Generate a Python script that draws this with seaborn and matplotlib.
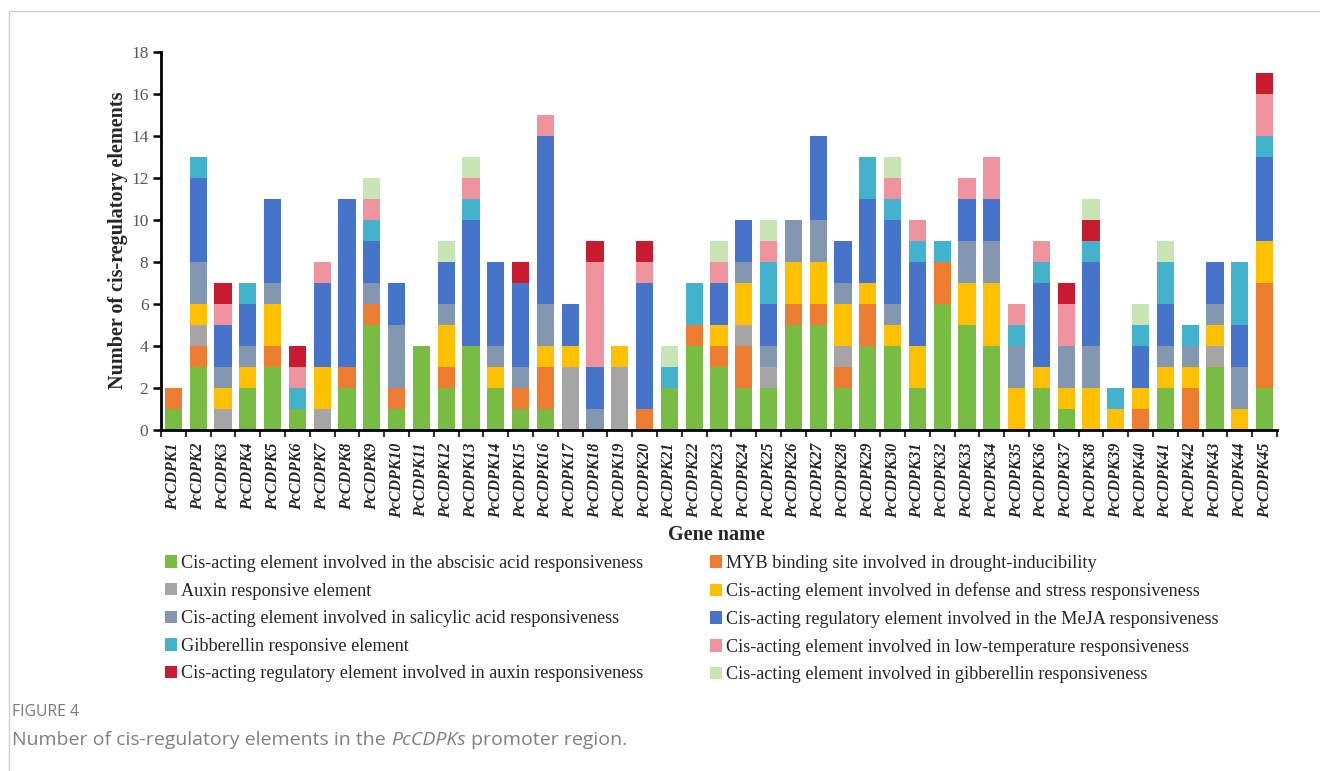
import numpy as np
import pandas as pd
import seaborn as sns
import matplotlib.pyplot as plt
from matplotlib.patches import Patch, Rectangle

# --- data ---
genes = [f"PcCDPK{i}" for i in range(1, 46)]

aba      = [1, 3, 0, 2, 3, 1, 0, 2, 5, 1, 4, 2, 4, 2, 1, 1, 0, 0, 0, 0, 2, 4, 3, 2, 2, 5, 5, 2, 4, 4, 2, 6, 5, 4, 0, 2, 1, 0, 0, 0, 2, 0, 3, 0, 2]
myb      = [1, 1, 0, 0, 1, 0, 0, 1, 1, 1, 0, 1, 0, 0, 1, 2, 0, 0, 0, 1, 0, 1, 1, 2, 0, 1, 1, 1, 2, 0, 0, 2, 0, 0, 0, 0, 0, 0, 0, 1, 0, 2, 0, 0, 5]
auxin    = [0, 1, 1, 0, 0, 0, 1, 0, 0, 0, 0, 0, 0, 0, 0, 0, 3, 0, 3, 0, 0, 0, 0, 1, 1, 0, 0, 1, 0, 0, 0, 0, 0, 0, 0, 0, 0, 0, 0, 0, 0, 0, 1, 0, 0]
defense  = [0, 1, 1, 1, 2, 0, 2, 0, 0, 0, 0, 2, 0, 1, 0, 1, 1, 0, 1, 0, 0, 0, 1, 2, 0, 2, 2, 2, 1, 1, 2, 0, 2, 3, 2, 1, 1, 2, 1, 1, 1, 1, 1, 1, 2]
salicyl  = [0, 2, 1, 1, 1, 0, 0, 0, 1, 3, 0, 1, 0, 1, 1, 2, 0, 1, 0, 0, 0, 0, 0, 1, 1, 2, 2, 1, 0, 1, 0, 0, 2, 2, 2, 0, 2, 2, 0, 0, 1, 1, 1, 2, 0]
meja     = [0, 4, 2, 2, 4, 0, 4, 8, 2, 2, 0, 2, 6, 4, 4, 8, 2, 2, 0, 6, 0, 0, 2, 2, 2, 0, 4, 2, 4, 4, 4, 0, 2, 2, 0, 4, 0, 4, 0, 2, 2, 0, 2, 2, 4]
gib_resp = [0, 1, 0, 1, 0, 1, 0, 0, 1, 0, 0, 0, 1, 0, 0, 0, 0, 0, 0, 0, 1, 2, 0, 0, 2, 0, 0, 0, 2, 1, 1, 1, 0, 0, 1, 1, 0, 1, 1, 1, 2, 1, 0, 3, 1]
lowtemp  = [0, 0, 1, 0, 0, 1, 1, 0, 1, 0, 0, 0, 1, 0, 0, 1, 0, 5, 0, 1, 0, 0, 1, 0, 1, 0, 0, 0, 0, 1, 1, 0, 1, 2, 1, 1, 2, 0, 0, 0, 0, 0, 0, 0, 2]
auxin_reg = [0, 0, 1, 0, 0, 1, 0, 0, 0, 0, 0, 0, 0, 0, 1, 0, 0, 1, 0, 1, 0, 0, 0, 0, 0, 0, 0, 0, 0, 0, 0, 0, 0, 0, 0, 0, 1, 1, 0, 0, 0, 0, 0, 0, 1]
gib_cis  = [0, 0, 0, 0, 0, 0, 0, 0, 1, 0, 0, 1, 1, 0, 0, 0, 0, 0, 0, 0, 1, 0, 1, 0, 1, 0, 0, 0, 0, 1, 0, 0, 0, 0, 0, 0, 0, 1, 0, 1, 1, 0, 0, 0, 0]

element_names = [
    "Cis-acting element involved in the abscisic acid responsiveness",
    "MYB binding site involved in drought-inducibility",
    "Auxin responsive element",
    "Cis-acting element involved in defense and stress responsiveness",
    "Cis-acting element involved in salicylic acid responsiveness",
    "Cis-acting regulatory element involved in the MeJA responsiveness",
    "Gibberellin responsive element",
    "Cis-acting element involved in low-temperature responsiveness",
    "Cis-acting regulatory element involved in auxin responsiveness",
    "Cis-acting element involved in gibberellin responsiveness",
]
element_colors = ["#78BC43", "#ED7D31", "#A5A5A5", "#FFC000", "#8497B0",
                  "#4674CA", "#43B2CC", "#EF949F", "#C81B30", "#C9E5B5"]

series = [aba, myb, auxin, defense, salicyl, meja, gib_resp, lowtemp, auxin_reg, gib_cis]
df = pd.DataFrame(dict(zip(element_names, series)), index=genes)

# --- style ---
sns.set_style("white")
plt.rcParams["font.family"] = ["Liberation Serif", "DejaVu Serif"]

fig = plt.figure(figsize=(13.2, 7.71), dpi=100)
ax = fig.add_axes([161 / 1320, 1 - 430 / 771, (1277 - 161) / 1320, (430 - 52) / 771])

# stacked bars: draw cumulative totals from the top segment down
cum = df.cumsum(axis=1)
for k in reversed(range(len(element_names))):
    sns.barplot(x=genes, y=cum.iloc[:, k].values, color=element_colors[k],
                saturation=1, width=0.7, linewidth=0, ax=ax)

ax.set_xlim(-0.5, len(genes) - 0.5)
ax.set_ylim(0, 18)
ax.set_yticks(np.arange(0, 19, 2))
ax.set_xlabel("")
ax.set_ylabel("")

for side in ["top", "right"]:
    ax.spines[side].set_visible(False)
for side in ["left", "bottom"]:
    ax.spines[side].set_linewidth(2)
    ax.spines[side].set_color("black")

ax.tick_params(axis="y", direction="out", length=6, width=1.8, color="black",
               labelsize=12.5, labelcolor="#595959", pad=3, left=True)
ax.set_xticks(np.arange(-0.5, len(genes)), minor=True)
ax.tick_params(axis="x", which="minor", direction="out", length=5, width=1.5,
               color="#333333", bottom=True)
ax.tick_params(axis="x", which="major", length=0, pad=9, bottom=True)
ax.set_xticks(range(len(genes)))
ax.set_xticklabels(genes, rotation=90, fontsize=11.5, fontweight="bold",
                   fontstyle="italic", va="top", ha="center")

fig.text(716 / 1320, 1 - 535 / 771, "Gene name", fontsize=14.5, fontweight="bold",
         ha="center", va="center")
fig.text(118 / 1320, 1 - 240 / 771, "Number of cis-regulatory elements", fontsize=14.5,
         fontweight="bold", rotation=90, ha="center", va="center")

# legend: two columns, row-wise order
handles = [Patch(facecolor=c, edgecolor="none") for c in element_colors]
left_idx = [0, 2, 4, 6, 8]
right_idx = [1, 3, 5, 7, 9]
for idx, xpos in [(left_idx, 165), (right_idx, 710)]:
    fig.legend([handles[i] for i in idx], [element_names[i] for i in idx],
               loc="upper left", bbox_to_anchor=(xpos / 1320, 1 - 555 / 771),
               frameon=False, fontsize=13.15, handlelength=0.68, handleheight=0.68,
               handletextpad=0.22, labelspacing=0.58, borderpad=0, borderaxespad=0)

# caption card
fig.add_artist(Rectangle((9 / 1320, -0.1), 2, 1 - 11 / 771 + 0.1, transform=fig.transFigure,
                         fill=False, edgecolor="#d0d0d0", linewidth=1))
fig.text(12 / 1320, 1 - 712 / 771, "FIGURE 4", family="Open Sans", fontsize=11.3,
         color="#7a7a7a", ha="left", va="center")

renderer = fig.canvas.get_renderer()
cap_y = 1 - 740 / 771
x0 = 12 / 1320
parts = [("Number of cis-regulatory elements in the ", "normal"),
         ("PcCDPKs", "italic"),
         (" promoter region.", "normal")]
for txt, style in parts:
    t = fig.text(x0, cap_y, txt, family="Open Sans", fontsize=14, style=style,
                 color="#808080", ha="left", va="center")
    bb = t.get_window_extent(renderer=renderer)
    x0 += bb.width / fig.bbox.width

fig.savefig("out.png", dpi=100)
